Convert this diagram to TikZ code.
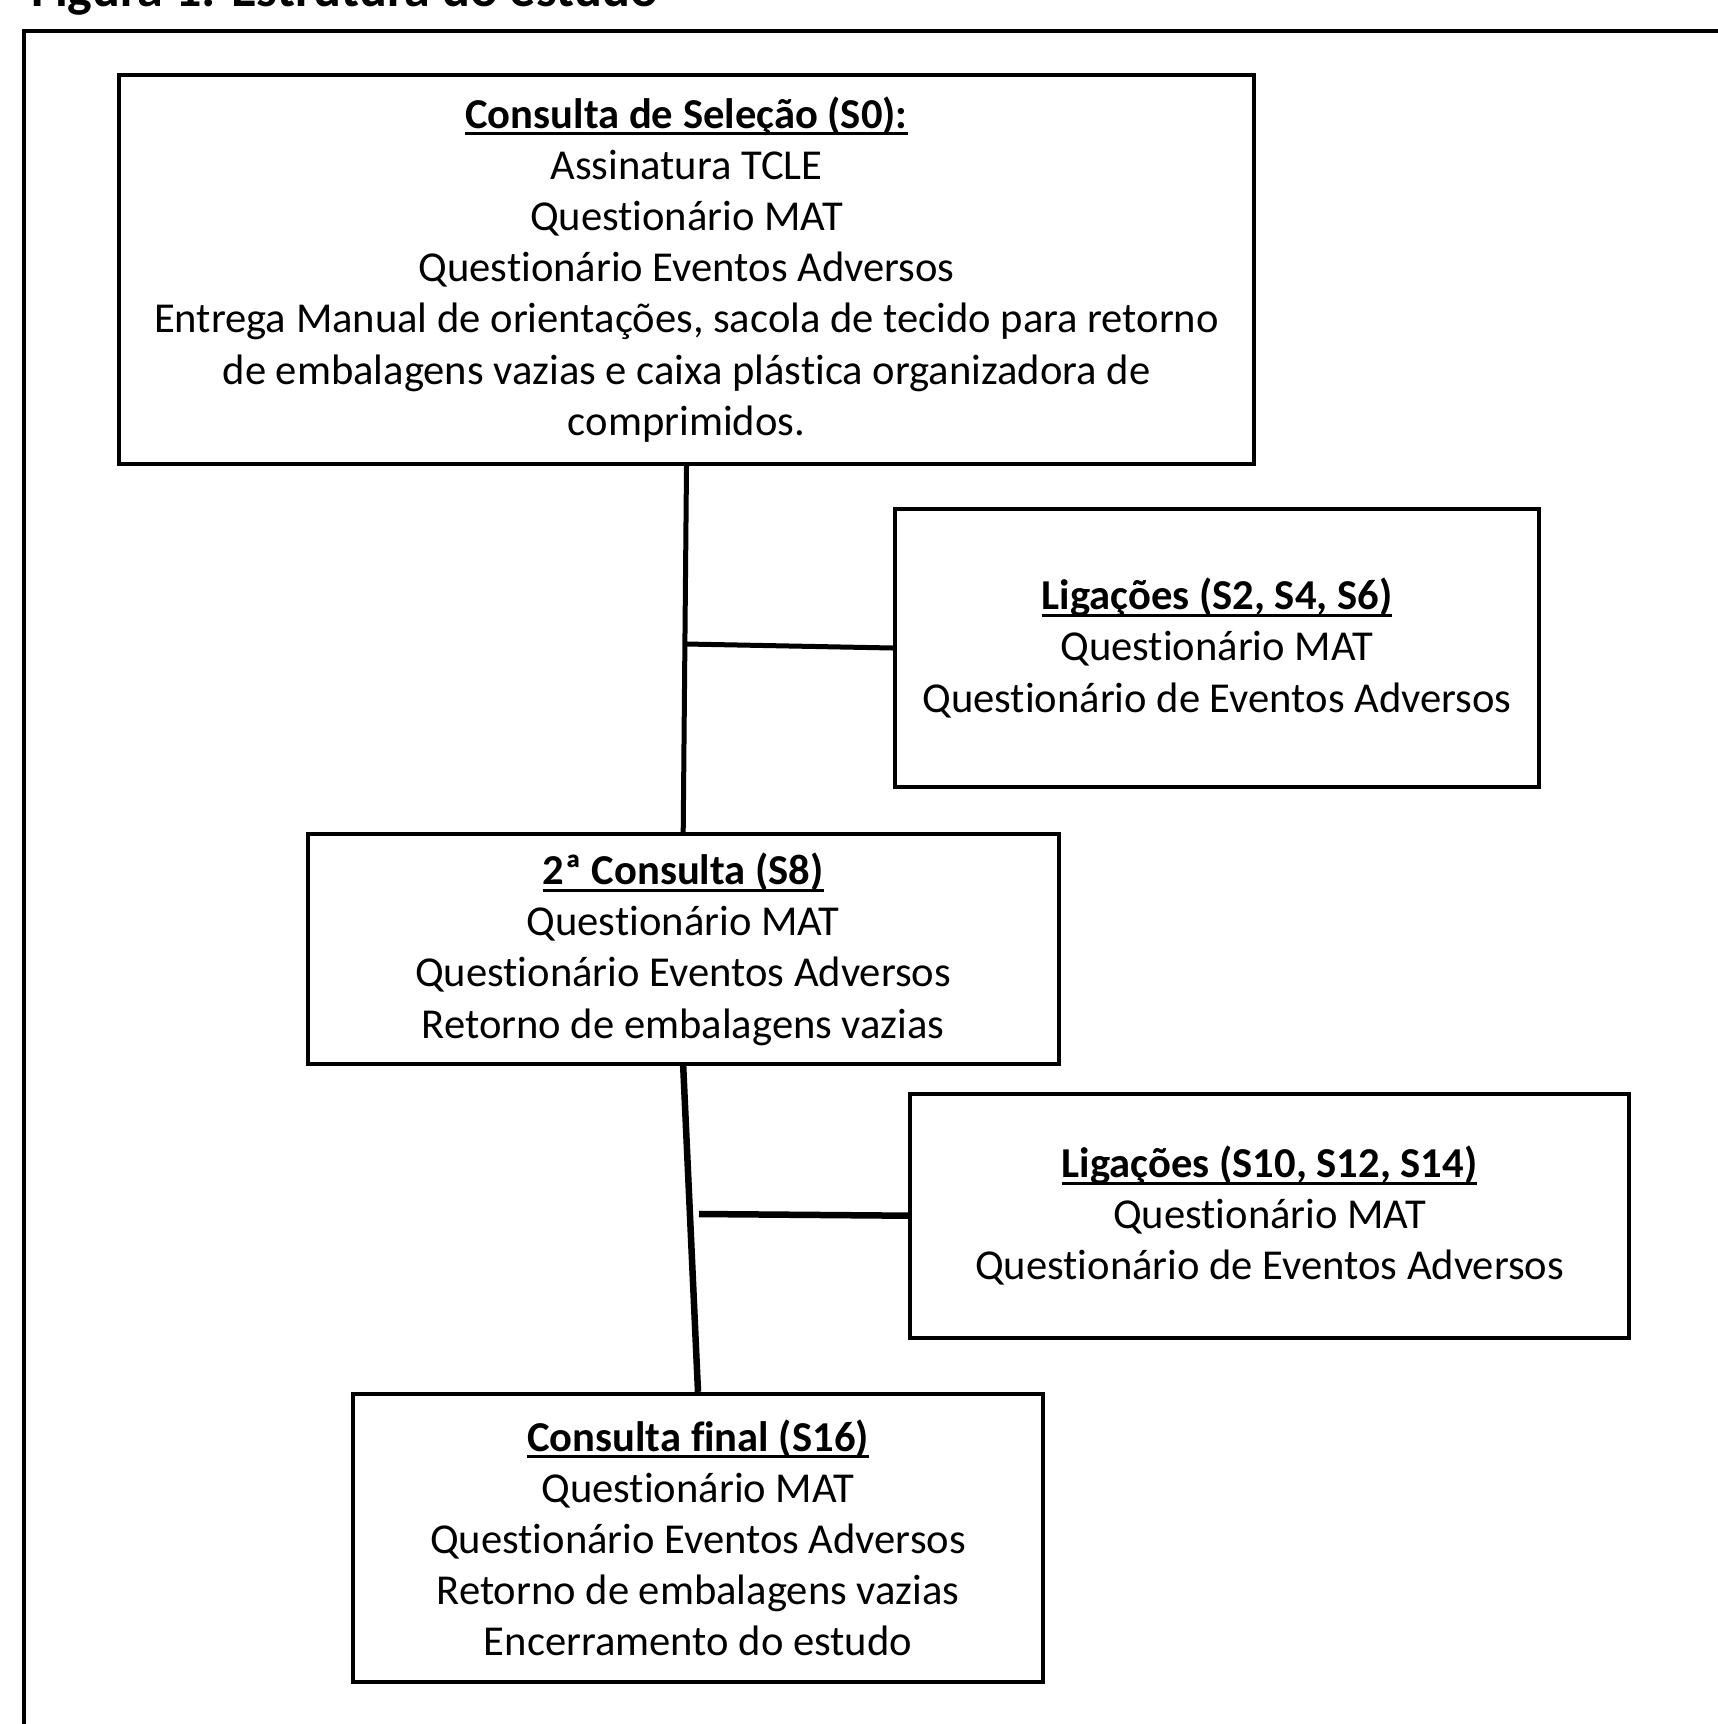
\documentclass[tikz,border=0pt]{standalone}
\usepackage{fontspec}
\setmainfont{Carlito}[Ligatures=CommonOff]
\newsavebox\ulbox
\newcommand{\ulin}[1]{\sbox\ulbox{#1}\rlap{\rule[-7pt]{\wd\ulbox}{3pt}}\usebox\ulbox}
\begin{document}
\begin{tikzpicture}[x=1pt,y=-1pt,
  stepbox/.style={draw, line width=4pt, inner sep=0pt, align=center,
    font=\fontsize{42.6}{51.2}\selectfont},
  link/.style={line width=5pt},
  boldlink/.style={line width=6.5pt},
  frame/.style={line width=4.5pt}]
\useasboundingbox (0,0) rectangle (1717,1724);
\fill[white] (0,0) rectangle (1717,1724);

\node[anchor=base west, inner sep=0pt, font=\bfseries\fontsize{52}{60}\selectfont] (title) at (31,6) {Figura 1: Estrutura do estudo};
\coordinate (fbl) at (24,1740);
\coordinate (ftl) at (24,31);
\coordinate (ftr) at (1740,31);
\draw[frame] (fbl) -- (ftl) -- (ftr);

\node[stepbox, minimum width=1135.5pt, minimum height=389.2pt] (b1) at (686.5,269.3)
  {\textbf{\ulin{Consulta de Seleção (S0):}}\\
   Assinatura TCLE\\
   Questionário MAT\\
   Questionário Eventos Adversos\\
   Entrega Manual de orientações, sacola de tecido para retorno\\
   de embalagens vazias e caixa plástica organizadora de\\
   comprimidos.};

\node[stepbox, minimum width=644.1pt, minimum height=278pt] (b2) at (1216.9,648)
  {\textbf{\ulin{Ligações (S2, S4, S6)}}\\
   Questionário MAT\\
   Questionário de Eventos Adversos};

\node[stepbox, minimum width=750.7pt, minimum height=229.7pt] (b3) at (683.2,949.2)
  {\textbf{\ulin{2ª Consulta (S8)}}\\
   Questionário MAT\\
   Questionário Eventos Adversos\\
   Retorno de embalagens vazias};

\node[stepbox, minimum width=718.9pt, minimum height=244pt] (b4) at (1269.6,1215.7)
  {\textbf{\ulin{Ligações (S10, S12, S14)}}\\
   Questionário MAT\\
   Questionário de Eventos Adversos};

\node[stepbox, minimum width=690.3pt, minimum height=288pt] (b5) at (698,1537.8)
  {\textbf{\ulin{Consulta final (S16)}}\\
   Questionário MAT\\
   Questionário Eventos Adversos\\
   Retorno de embalagens vazias\\
   Encerramento do estudo};

\coordinate (j1) at (686,644);
\coordinate (j2) at (699,1214);
\draw[link] (b1.south) -- (b3.north);
\draw[link] (j1) -- (b2.west);
\draw[boldlink] (b3.south) -- (b5.north);
\draw[boldlink] (j2) -- (b4.west);
\end{tikzpicture}
\end{document}
